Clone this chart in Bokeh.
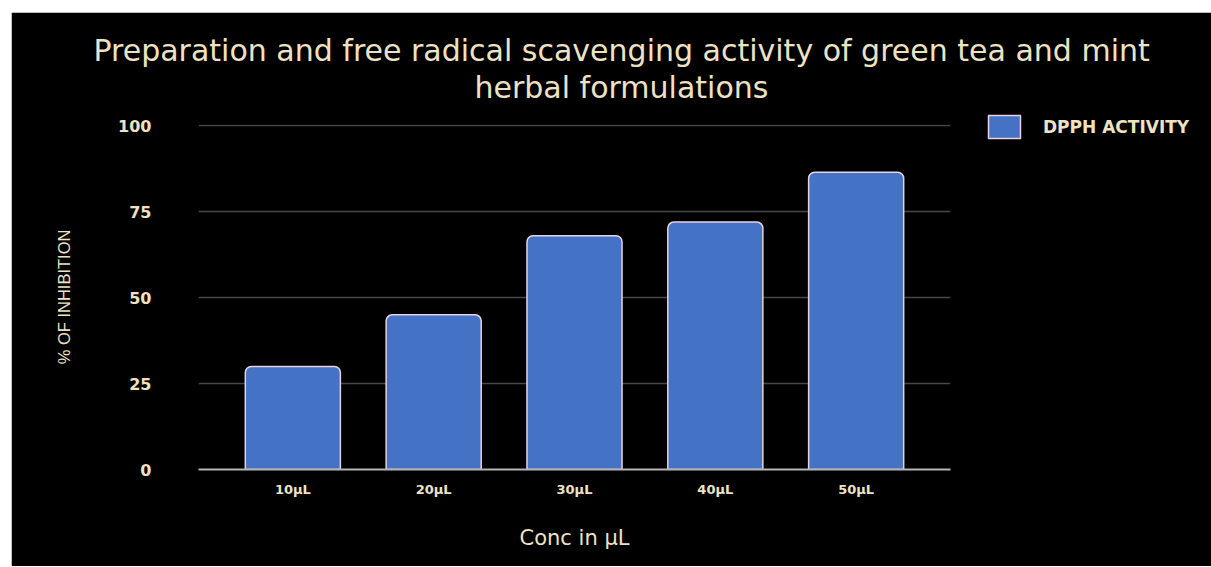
from bokeh.plotting import figure
from bokeh.models import FactorRange, Range1d, Title, Legend, LegendItem, ColumnDataSource, Spacer, FixedTicker
from bokeh.layouts import column, row
from bokeh.embed import file_html
from bokeh.resources import INLINE

categories = ["10µL", "20µL", "30µL", "40µL", "50µL"]
dpph_activity = [30, 45, 68, 72, 86.5]
y_ticks = [0, 25, 50, 75, 100]

title_lines = ["Preparation and free radical scavenging activity of green tea and mint",
               "herbal formulations"]
x_label = "Conc in µL"
y_label = "% OF INHIBITION"
series_name = "DPPH ACTIVITY"

CREAM = "#EDE3C3"
BG = "#000000"

src = ColumnDataSource(dict(x=categories, y=dpph_activity))

p = figure(
    x_range=FactorRange(*categories, range_padding=0.17, range_padding_units="absolute"),
    y_range=Range1d(0, 100.4),
    frame_width=752, frame_height=345,
    output_backend="svg", toolbar_location=None,
    background_fill_color=BG, border_fill_color=BG,
    min_border_left=187, min_border_right=260, min_border_bottom=97, min_border_top=112,
)
p.outline_line_color = BG
p.outline_line_alpha = 1
p.outline_line_width = 3

p.xgrid.grid_line_color = None
p.ygrid.grid_line_color = "#474747"
p.ygrid.grid_line_width = 1.5

r = p.vbar(x="x", top="y", width=0.675, source=src, fill_color="#4472C4",
           line_color="#E8D2E2", line_width=1.5, border_radius=(6, 6, 0, 0))

# gap between the frame and the two-line title
p.add_layout(Title(text=" ", text_font_size="1px", standoff=17), "above")
# two-line title; the later-added line sits above
p.add_layout(Title(text=title_lines[1], align="left", offset=276, text_color=CREAM,
                   text_font="DejaVu Sans", text_font_size="30px", text_font_style="normal",
                   standoff=0), "above")
p.add_layout(Title(text=title_lines[0], align="left", offset=-105, text_color=CREAM,
                   text_font="DejaVu Sans", text_font_size="30px", text_font_style="normal",
                   standoff=0), "above")

# axes
p.yaxis.ticker = FixedTicker(ticks=y_ticks)
p.yaxis.axis_line_color = None
p.yaxis.major_tick_line_color = None
p.yaxis.minor_tick_line_color = None
p.yaxis.major_label_text_color = CREAM
p.yaxis.major_label_text_font = "DejaVu Sans"
p.yaxis.major_label_text_font_size = "16px"
p.yaxis.major_label_text_font_style = "bold"
p.yaxis.major_label_standoff = 41
p.yaxis.axis_label = y_label
p.yaxis.axis_label_text_color = CREAM
p.yaxis.axis_label_text_font = "Liberation Sans"
p.yaxis.axis_label_text_font_size = "16.5px"
p.yaxis.axis_label_text_font_style = "normal"
p.yaxis.axis_label_standoff = 42

p.xaxis.axis_line_color = "#B5B5B5"
p.xaxis.axis_line_width = 2
p.xaxis.major_tick_line_color = None
p.xaxis.minor_tick_line_color = None
p.xaxis.major_label_text_color = CREAM
p.xaxis.major_label_text_font = "DejaVu Sans"
p.xaxis.major_label_text_font_size = "13px"
p.xaxis.major_label_text_font_style = "bold"
p.xaxis.major_label_standoff = 6
p.xaxis.axis_label = x_label
p.xaxis.axis_label_text_color = CREAM
p.xaxis.axis_label_text_font = "DejaVu Sans"
p.xaxis.axis_label_text_font_size = "21px"
p.xaxis.axis_label_text_font_style = "normal"
p.xaxis.axis_label_standoff = 26

legend = Legend(items=[LegendItem(label=series_name, renderers=[r])],
                location=(34, 328), orientation="vertical",
                background_fill_color=BG, background_fill_alpha=0, border_line_color=None,
                label_text_color=CREAM, label_text_font="DejaVu Sans",
                label_text_font_size="17px", label_text_font_style="bold",
                glyph_width=40, glyph_height=29, label_standoff=19,
                margin=0, padding=0, spacing=0)
p.add_layout(legend, "right")

layout = column(Spacer(height=12), row(Spacer(width=11), p))

open("out.html", "w").write(file_html(layout, INLINE))
